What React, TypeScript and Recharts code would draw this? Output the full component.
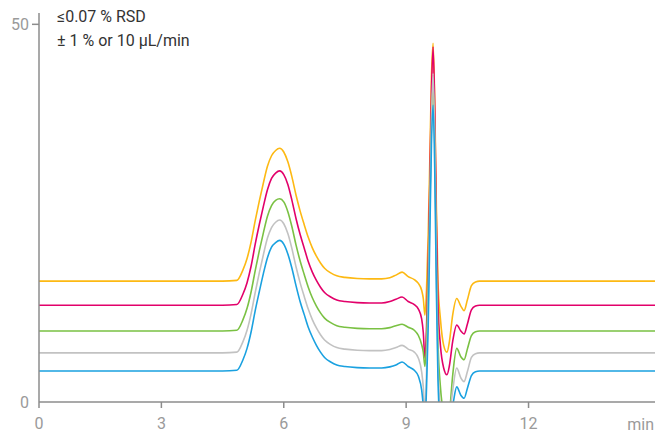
import React from 'react';
import { LineChart, Line, XAxis, YAxis } from 'recharts';

// retention time (min)
const times = [
  0, 1, 2, 3, 4, 4.5, 4.85, 5.0, 5.1, 5.2, 5.3, 5.4, 5.5, 5.6, 5.7, 5.8, 5.9, 6.0, 6.1, 6.2,
  6.3, 6.4, 6.5, 6.6, 6.7, 6.8, 6.9, 7.0, 7.15, 7.3, 7.5, 7.8, 8.1, 8.4, 8.6, 8.75, 8.9, 9.05,
  9.2, 9.3, 9.38, 9.42, 9.46, 9.5, 9.54, 9.58, 9.62, 9.66, 9.7, 9.74, 9.78, 9.84, 9.92, 10.0,
  10.06, 10.14, 10.24, 10.34, 10.42, 10.5, 10.6, 10.7, 10.8, 11, 12, 13, 14, 15.1,
];

const yellow = [
  16, 16, 16, 16, 16, 16, 16.1, 17.5, 19, 21.2, 24, 26.6, 29, 31.2, 32.6, 33.3, 33.6, 33.1, 31.8, 29.8,
  27.4, 25.3, 23.5, 21.8, 20.4, 19.3, 18.4, 17.7, 17.1, 16.7, 16.5, 16.35, 16.3, 16.3, 16.45, 16.8, 17.2, 16.6,
  16.2, 15.7, 14.8, 13.7, 11.5, 15, 22, 32, 43, 47.5, 40, 26, 16, 11, 7.5, 6.6,
  8, 11.5, 13.7, 12.7, 12.1, 13.5, 15.4, 15.9, 16, 16, 16, 16, 16, 16,
];

const magenta = [
  12.8, 12.8, 12.8, 12.8, 12.8, 12.8, 12.9, 14.3, 15.8, 18.0, 20.9, 23.5, 25.9, 28.1, 29.6, 30.3, 30.6, 30.1, 28.8, 26.7,
  24.3, 22.2, 20.4, 18.6, 17.2, 16.1, 15.2, 14.5, 13.9, 13.5, 13.3, 13.15, 13.1, 13.1, 13.3, 13.6, 13.9, 13.3,
  12.9, 12.3, 11.0, 9.2, 5.8, 10, 18, 29, 41, 47, 39, 24, 13, 7.5, 4.5, 3.6,
  4.8, 8.0, 10.2, 9.4, 9.0, 10.3, 12.2, 12.7, 12.8, 12.8, 12.8, 12.8, 12.8, 12.8,
];

const green = [
  9.4, 9.4, 9.4, 9.4, 9.4, 9.4, 9.5, 10.9, 12.4, 14.6, 17.4, 20.0, 22.4, 24.6, 26.0, 26.7, 26.9, 26.5, 25.2, 23.2,
  20.8, 18.7, 16.9, 15.2, 13.8, 12.7, 11.8, 11.1, 10.5, 10.1, 9.9, 9.75, 9.7, 9.7, 9.85, 10.1, 10.3, 9.9,
  9.5, 8.8, 7.6, 6.6, 4.7, 8, 16, 26, 37, 42, 35, 20, 8, 2, -1.5, -2.5,
  -1.5, 3.5, 7.1, 6.0, 5.6, 7.0, 8.8, 9.3, 9.4, 9.4, 9.4, 9.4, 9.4, 9.4,
];

const grey = [
  6.5, 6.5, 6.5, 6.5, 6.5, 6.5, 6.6, 8.0, 9.5, 11.7, 14.5, 17.1, 19.5, 21.7, 23.1, 23.8, 24.1, 23.6, 22.3, 20.3,
  17.9, 15.8, 14.0, 12.3, 10.9, 9.8, 8.9, 8.2, 7.6, 7.2, 7.0, 6.85, 6.8, 6.8, 6.95, 7.2, 7.5, 7.0,
  6.6, 5.8, 4.0, 2.0, -1.5, 4, 13, 25, 37, 43.5, 35, 18, 5, -1, -3, -3,
  -2, 1.5, 4.5, 3.2, 2.7, 4.0, 5.9, 6.4, 6.5, 6.5, 6.5, 6.5, 6.5, 6.5,
];

const blue = [
  4.1, 4.1, 4.1, 4.1, 4.1, 4.1, 4.2, 5.6, 7.1, 9.3, 12.1, 14.6, 17.0, 19.1, 20.5, 21.1, 21.4, 20.9, 19.6, 17.7,
  15.4, 13.3, 11.6, 9.9, 8.6, 7.5, 6.6, 5.9, 5.3, 4.9, 4.7, 4.55, 4.5, 4.5, 4.65, 4.9, 5.3, 4.7,
  4.2, 3.4, 1.6, -0.5, -3, 2, 10, 22, 34, 39.3, 31, 15, 3, -3, -4, -4,
  -2.5, -0.5, 2.0, 0.9, 0.5, 1.8, 3.5, 4.0, 4.1, 4.1, 4.1, 4.1, 4.1, 4.1,
];

const xTicks = [0, 3, 6, 9, 12];
const yTicks = [0, 50];

const data = times.map((t, i) => ({
  t,
  yellow: yellow[i],
  magenta: magenta[i],
  green: green[i],
  grey: grey[i],
  blue: blue[i],
}));

const series = [
  { key: 'yellow', color: '#FDB913' },
  { key: 'magenta', color: '#E2006A' },
  { key: 'green', color: '#7AC143' },
  { key: 'grey', color: '#C2C2C2' },
  { key: 'blue', color: '#1AA1E0' },
];

const axisColor = '#8c8c8c';
const tickStyle = { fontSize: 16, fill: '#9a9a9a', fontFamily: 'Roboto' };

// y ticks: only the 50 gets a tick mark, the 0 sits on the x axis corner
const YTick = (props: any) => {
  const { x, y, payload } = props;
  const axisX = x + 3 + 7;
  return (
    <g>
      {payload.value !== 0 && (
        <line x1={axisX - 7} x2={axisX} y1={y} y2={y} stroke={axisColor} strokeWidth={1.5} />
      )}
      <text x={x} y={y} dy="0.355em" textAnchor="end" {...tickStyle}>
        {payload.value}
      </text>
    </g>
  );
};

const App: React.FC = () => {
  return (
    <div style={{ position: 'absolute', left: 0, top: 0, width: 659, height: 431, fontFamily: 'Roboto' }}>
      <LineChart width={659} height={431} data={data} margin={{ top: 13, right: 4, left: 0, bottom: 0 }}>
        <XAxis
          dataKey="t"
          type="number"
          domain={[0, 15.1]}
          ticks={xTicks}
          allowDataOverflow
          stroke={axisColor}
          strokeWidth={1.5}
          tickSize={6}
          tickMargin={10}
          height={29}
          tick={tickStyle}
          label={{ value: 'min', position: 'insideBottomRight', offset: 1, style: tickStyle }}
        />
        <YAxis
          type="number"
          domain={[0, 51.5]}
          ticks={yTicks}
          allowDataOverflow
          stroke={axisColor}
          strokeWidth={1.5}
          tickLine={false}
          tickSize={7}
          tickMargin={3}
          width={39}
          tick={<YTick />}
        />
        {series.map((s) => (
          <Line
            key={s.key}
            type="monotone"
            dataKey={s.key}
            stroke={s.color}
            strokeWidth={1.6}
            dot={false}
            isAnimationActive={false}
          />
        ))}
      </LineChart>
      <div style={{ position: 'absolute', left: 57, top: 5, fontSize: 16, lineHeight: '24px', color: '#333' }}>
        <div>≤0.07 % RSD</div>
        <div>± 1 % or 10 µL/min</div>
      </div>
    </div>
  );
};

export default App;
